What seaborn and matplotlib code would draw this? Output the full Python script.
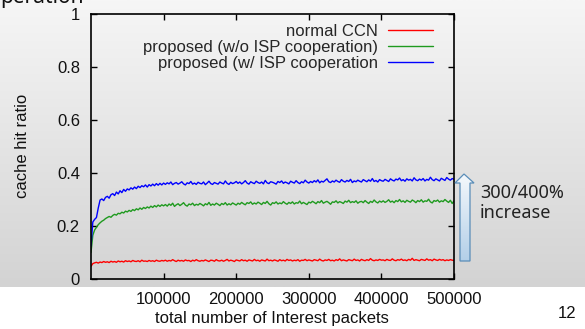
import numpy as np
import pandas as pd
import matplotlib
matplotlib.use("Agg")
import matplotlib.pyplot as plt
from matplotlib.patches import Polygon
import seaborn as sns

# =========================
# DATA (one value every 2500 packets)
# =========================
step = 2500

normal_ccn = [
    .048, .058, .061, .063, .060, .064, .062, .066, .063, .065,
    .062, .067, .064, .066, .063, .068, .065, .067, .064, .069,
    .066, .068, .065, .070, .067, .066, .069, .065, .071, .067,
    .068, .066, .070, .067, .069, .066, .071, .068, .067, .070,
    .068,
    .071, .067, .070, .068, .073, .069, .066, .071, .068, .070,
    .067, .072, .069, .070, .066, .071, .068, .073, .069, .067,
    .070, .068, .072, .069, .066, .071, .070, .067, .073, .069,
    .068, .071, .067, .070, .074, .068, .071, .069, .066, .072,
    .070, .068, .073, .069, .071, .067, .072, .070, .068, .074,
    .069, .071, .067, .072, .070, .068, .075, .069, .071, .068,
    .072, .070, .067, .073, .069, .071, .068, .074, .070, .072,
    .068, .071, .069, .073, .067, .071, .070, .074, .069, .072,
    .070, .068, .073, .071, .069, .075, .070, .068, .072, .070,
    .074, .069, .071, .068, .073, .070, .076, .069, .072, .070,
    .068, .073, .071, .069, .075, .070, .072, .068, .074, .071,
    .069, .073, .070, .077, .071, .069, .072, .070, .074, .071,
    .072, .069, .074, .071, .070, .076, .071, .069, .073, .071,
    .075, .070, .072, .069, .074, .071, .078, .070, .073, .071,
    .069, .074, .072, .070, .076, .071, .073, .069, .075, .072,
    .070, .074, .071, .073, .069, .072, .070, .073, .071, .070,
]

proposed_wo_isp = [
    .100, .165, .185, .195, .205, .212, .218, .222, .228, .232,
    .236, .233, .240, .244, .241, .248, .246, .252, .249, .256,
    .253, .259, .255, .262, .258, .265, .261, .268, .263, .270,
    .266, .272, .268, .275, .270, .277, .272, .279, .274, .280,
    .276,
    .281, .275, .283, .278, .286, .274, .280, .284, .277, .282,
    .288, .279, .275, .283, .280, .286, .277, .282, .279, .285,
    .281, .276, .284, .280, .289, .278, .283, .279, .286, .282,
    .277, .285, .281, .288, .279, .284, .280, .287, .283, .279,
    .286, .282, .289, .284, .280, .288, .285, .291, .282, .287,
    .283, .290, .286, .281, .289, .285, .293, .284, .279, .288,
    .285, .291, .283, .287, .284, .292, .286, .282, .289, .285,
    .291, .283, .288, .286, .294, .284, .289, .285, .281, .290,
    .287, .293, .289, .284, .292, .288, .296, .286, .290, .293,
    .288, .282, .291, .289, .295, .287, .292, .289, .285, .294,
    .290, .297, .288, .292, .289, .295, .286, .291, .293, .288,
    .296, .290, .285, .293, .289, .298, .291, .287, .294, .290,
    .295, .289, .293, .299, .290, .294, .288, .296, .292, .300,
    .291, .295, .289, .297, .293, .290, .298, .294, .288, .296,
    .292, .299, .290, .295, .293, .301, .291, .287, .296, .293,
    .298, .290, .295, .292, .300, .294, .289, .297, .285, .295,
]

proposed_w_isp = [
    .125, .215, .225, .232, .268, .298, .302, .296, .308, .312,
    .305, .318, .322, .315, .328, .321, .333, .326, .338, .331,
    .340, .336, .344, .339, .347, .341, .350, .345, .352, .348,
    .355, .347, .356, .351, .358, .352, .360, .354, .361, .355,
    .362,
    .357, .363, .359, .366, .356, .361, .364, .358, .362, .367,
    .359, .355, .363, .360, .368, .358, .362, .357, .365, .361,
    .359, .366, .356, .362, .369, .360, .357, .364, .361, .358,
    .366, .362, .359, .370, .361, .357, .365, .360, .363, .368,
    .361, .366, .359, .364, .371, .362, .358, .367, .363, .360,
    .369, .364, .361, .366, .359, .372, .363, .360, .367, .365,
    .362, .358, .368, .364, .370, .361, .366, .363, .359, .369,
    .365, .362, .371, .364, .360, .367, .363, .373, .366, .362,
    .368, .364, .371, .366, .374, .363, .369, .366, .372, .378,
    .367, .364, .370, .366, .373, .368, .365, .375, .369, .366,
    .372, .368, .376, .364, .370, .367, .373, .369, .366, .375,
    .371, .367, .374, .369, .379, .368, .372, .366, .375, .371,
    .369, .376, .372, .368, .378, .373, .370, .377, .374, .381,
    .371, .375, .369, .378, .373, .376, .370, .382, .374, .371,
    .377, .373, .379, .370, .376, .373, .384, .375, .371, .378,
    .374, .370, .380, .376, .372, .383, .377, .373, .379, .376,
]

labels = ["normal CCN", "proposed (w/o ISP cooperation)",
          "proposed (w/ ISP cooperation"]
colors = ["#ff0000", "#1f9a1f", "#0000ff"]
x_ticks = [100000, 200000, 300000, 400000, 500000]
y_ticks = [0, 0.2, 0.4, 0.6, 0.8, 1]

packets = np.arange(len(normal_ccn)) * step
df = pd.concat([
    pd.DataFrame({"packets": packets, "ratio": vals, "series": lab})
    for vals, lab in zip([normal_ccn, proposed_wo_isp, proposed_w_isp], labels)
])

# =========================
# STYLE
# =========================
sns.set_style("ticks")
plt.rcParams["font.family"] = ["Liberation Sans", "DejaVu Sans"]
plt.rcParams["font.size"] = 12

fig = plt.figure(figsize=(5.85, 3.29), dpi=100)
W, H = 585, 329

# slide background: grey gradient down to the white footer
bg = fig.add_axes([0, (H - 287) / H, 1, 287 / H], zorder=-5)
grad = np.linspace(0, 1, 256).reshape(-1, 1)
bg.imshow(grad, aspect="auto", cmap=matplotlib.colors.LinearSegmentedColormap.from_list(
    "bg", ["#f6f6f6", "#d3d3d3"]), extent=[0, 1, 1, 0])
bg.set_axis_off()

ax = fig.add_axes([91 / W, (H - 279) / H, (454 - 91) / W, (279 - 14) / H])
ax.patch.set_alpha(0)

sns.lineplot(data=df, x="packets", y="ratio", hue="series", hue_order=labels,
             palette=colors, linewidth=1.0, ax=ax)

ax.set_xlim(0, 500000)
ax.set_ylim(0, 1)
ax.set_xticks(x_ticks)
ax.set_xticklabels([str(t) for t in x_ticks])
ax.set_yticks(y_ticks)
ax.set_yticklabels(["0", "0.2", "0.4", "0.6", "0.8", "1"])
ax.tick_params(direction="in", length=4, width=1, top=True, right=True,
               colors="black", labelcolor="#111111")
ax.tick_params(axis="x", pad=9)
ax.tick_params(axis="y", pad=8)
for s in ax.spines.values():
    s.set_linewidth(1.2)
    s.set_color("black")

ax.set_xlabel("")
ax.set_ylabel("")
fig.text(23 / W, 1 - 146 / H, "cache hit ratio", rotation=90,
         ha="center", va="center", fontsize=12, color="#111111")
fig.text(272 / W, 1 - 319 / H, "total number of Interest packets",
         ha="center", va="center", fontsize=12, color="#111111")

ax.legend(loc="upper right", frameon=False, markerfirst=False,
          handlelength=2.7, handletextpad=0.6, labelspacing=0.05,
          borderaxespad=0.3, borderpad=0.3, fontsize=12,
          bbox_to_anchor=(1 - 11 / 363, 1.0))

# =========================
# SLIDE DECORATIONS
# =========================
# slide title cut off by the top edge, as in the reference
fig.text(0, 1 - 3 / H, "peration", fontsize=15, ha="left", va="baseline",
         family=["Noto Sans", "DejaVu Sans"], color="#111111")
fig.text(567 / W, 1 - 313 / H, "12", fontsize=12, ha="center", va="center",
         color="#111111")
fig.text(480 / W, 1 - 203 / H, "300/400%\nincrease", fontsize=13,
         ha="left", va="center", linespacing=1.1,
         family=["Noto Sans", "DejaVu Sans"], color="#222222")

# block arrow with a light blue gradient fill
arr_ax = fig.add_axes([450 / W, 0, 30 / W, 1], zorder=3)
arr_ax.set_xlim(450, 480)
arr_ax.set_ylim(H, 0)
arr_ax.set_axis_off()
arrow_pts = [(464, 174), (474, 183), (470, 183), (470, 261),
             (460, 261), (460, 183), (455, 183)]
arrow = Polygon(arrow_pts, closed=True, facecolor="none",
                edgecolor="#5a8db8", linewidth=0.9)
arr_ax.add_patch(arrow)
img = arr_ax.imshow(grad, aspect="auto", extent=[450, 480, 261, 174],
                    cmap=matplotlib.colors.LinearSegmentedColormap.from_list(
                        "arr", ["#f4f8fc", "#b3cfe8"]))
img.set_clip_path(arrow)

fig.savefig("out.png", dpi=100)
